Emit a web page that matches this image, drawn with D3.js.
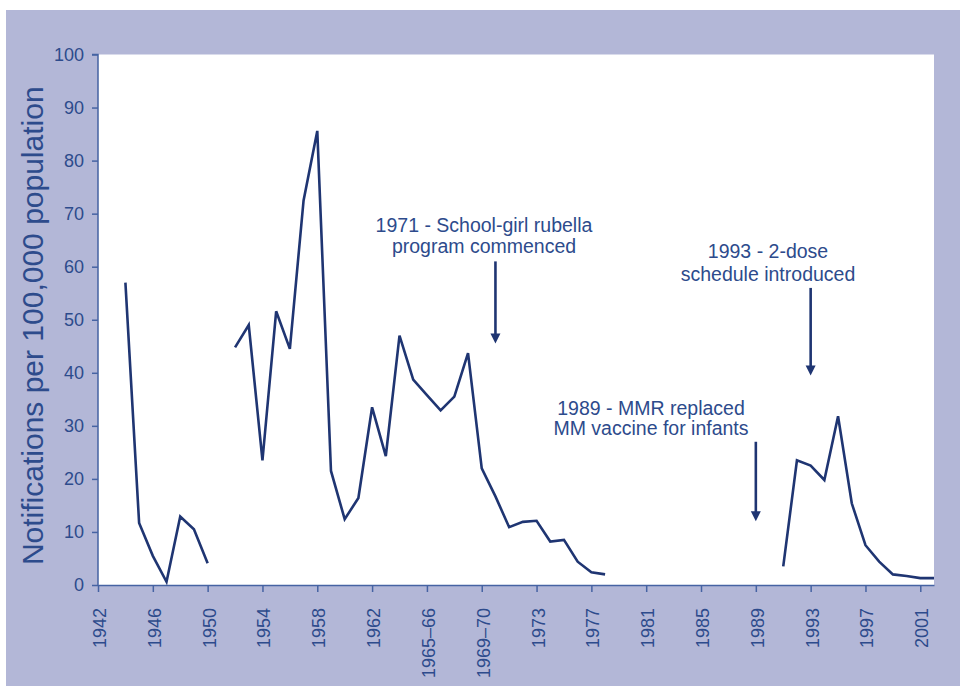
<!DOCTYPE html>
<html>
<head>
<meta charset="utf-8">
<script src="https://cdn.jsdelivr.net/npm/d3@7"></script>
<style>
  body { margin: 0; background: #fff; }
  svg { display: block; font-family: "Liberation Sans", Arial, sans-serif; }
</style>
</head>
<body>
<svg id="chart" width="960" height="686"></svg>
<script>
// categories: calendar years, then financial years, then calendar years again
var categories = ["1942","1943","1944","1945","1946","1947","1948","1949","1950","1951",
  "1952","1953","1954","1955","1956","1957","1958","1959","1960","1961",
  "1962","1963","1964","1965","1965–66","1966–67","1967–68","1968–69","1969–70","1970–71",
  "1971–72","1972–73","1973","1974","1975","1976","1977","1978","1979","1980",
  "1981","1982","1983","1984","1985","1986","1987","1988","1989","1990",
  "1991","1992","1993","1994","1995","1996","1997","1998","1999","2000",
  "2001","2002"];
var rates = [null,null,57,11.7,5.5,0.6,12.9,10.5,4.1,null,
  44.8,49,23.5,51.6,44.5,72.5,85.6,21.5,12.4,16.4,
  33.5,24.3,47,38.7,35.8,32.9,35.5,43.7,22,16.7,
  10.9,11.9,12.1,8.2,8.5,4.4,2.4,2.0,null,null,
  null,null,null,null,null,null,null,null,null,null,
  3.5,23.5,22.5,19.8,31.8,15.4,7.5,4.4,2.0,1.7,
  1.3,1.3];
var yTicks = [0,10,20,30,40,50,60,70,80,90,100];
var xTickLabels = ["1942","1946","1950","1954","1958","1962","1965–66","1969–70",
  "1973","1977","1981","1985","1989","1993","1997","2001"];

var notes = [
  {lines:["1971 - School-girl rubella","program commenced"], cat:"1970–71", from:61, to:45.5},
  {lines:["1989 - MMR replaced","MM vaccine for infants"], cat:"1989", from:27, to:12},
  {lines:["1993 - 2-dose","schedule introduced"], cat:"1993", from:56, to:39.5}
];
// where each note's text sits (px)
var notePos = [
  {x:484, y:[232,253]},
  {x:651, y:[415,435]},
  {x:768, y:[258,281]}
];

var textCol = "#2d4b8c";
var lineCol = "#1f3572";
var axisCol = "#4663a3";

var svg = d3.select("#chart");
svg.append("rect").attr("x",6).attr("y",10).attr("width",954).attr("height",676).attr("fill","#b3b7d7");

var pLeft = 98, pRight = 934, pTop = 54.5, pBottom = 585;
svg.append("rect").attr("x",pLeft).attr("y",pTop).attr("width",pRight-pLeft).attr("height",pBottom-pTop).attr("fill","#fff");

var x = d3.scalePoint().domain(categories).range([pLeft, pRight]);
var y = d3.scaleLinear().domain([0,100]).range([pBottom, pTop]);

var yAxis = svg.append("g").attr("transform","translate("+pLeft+",0)")
  .call(d3.axisLeft(y).tickValues(yTicks).tickSize(6).tickPadding(8));
yAxis.selectAll("text").attr("fill",textCol).style("font-size","18px");

var xAxis = svg.append("g").attr("transform","translate(0,"+pBottom+")")
  .call(d3.axisBottom(x).tickValues(xTickLabels).tickSize(7).tickSizeOuter(0));
xAxis.selectAll("text")
  .attr("fill",textCol).style("font-size","18px")
  .attr("text-anchor","end")
  .attr("transform","rotate(-90)")
  .attr("x",-23).attr("y",1).attr("dy","0.36em");

svg.selectAll(".domain, .tick line").attr("stroke",axisCol).attr("stroke-width",1.5);
yAxis.select(".domain").attr("d","M-6,"+pTop+"H0V"+pBottom);

svg.append("text")
  .attr("transform","translate(43,"+((pTop+pBottom)/2+6)+") rotate(-90)")
  .attr("text-anchor","middle").attr("fill",textCol)
  .style("font-size","30px")
  .text("Notifications per 100,000 population");

var line = d3.line()
  .defined(function(d){ return d != null; })
  .x(function(d,i){ return x(categories[i]); })
  .y(function(d){ return y(d); });

svg.append("path").datum(rates)
  .attr("d", line)
  .attr("fill","none").attr("stroke",lineCol)
  .attr("stroke-width",2.6).attr("stroke-linejoin","miter");

// annotations
notes.forEach(function(n, k){
  var t = svg.append("text").attr("fill",textCol).attr("text-anchor","middle").style("font-size","19.5px");
  n.lines.forEach(function(s, j){
    t.append("tspan").attr("x",notePos[k].x).attr("y",notePos[k].y[j]).text(s);
  });
  var ax = x(n.cat), y0 = y(n.from), y1 = y(n.to);
  svg.append("line").attr("x1",ax).attr("x2",ax).attr("y1",y0).attr("y2",y1-8)
    .attr("stroke",lineCol).attr("stroke-width",2.6);
  svg.append("path")
    .attr("d","M"+(ax-5)+","+(y1-10)+"L"+(ax+5)+","+(y1-10)+"L"+ax+","+y1+"Z")
    .attr("fill",lineCol);
});
</script>
</body>
</html>
